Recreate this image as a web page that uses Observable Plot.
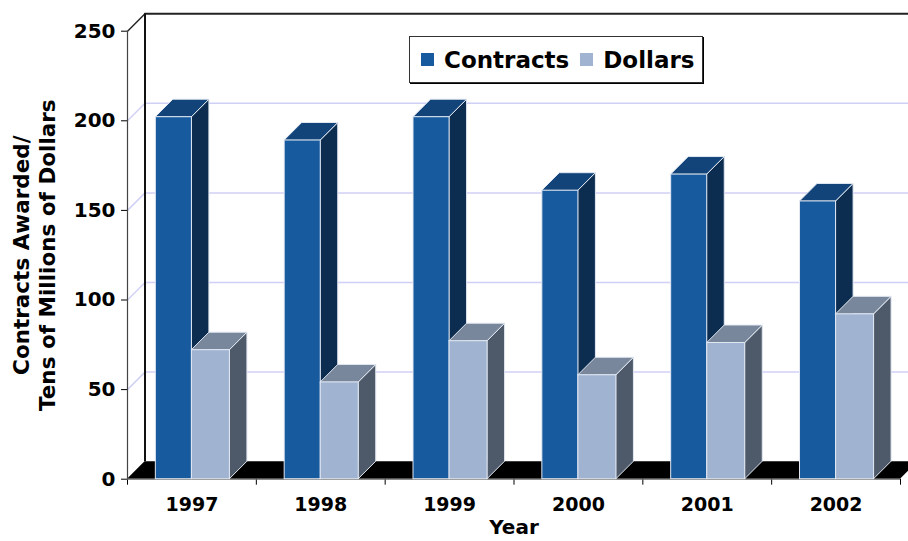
<!DOCTYPE html>
<html><head><meta charset="utf-8">
<script src="https://cdn.jsdelivr.net/npm/d3@7"></script>
<script src="https://cdn.jsdelivr.net/npm/@observablehq/plot@0.6"></script>
<style>
html,body{margin:0;padding:0;background:#fff;overflow:hidden}
#wrap{position:relative;width:908px;height:541px;overflow:hidden;font-family:"DejaVu Sans",sans-serif;}
#legend{position:absolute;left:409px;top:36px;width:292px;height:45px;border:1.5px solid #333;box-shadow:1px 1px 0 #000;background:#fff;display:flex;align-items:center;font-weight:bold;font-size:23px;color:#000;box-sizing:content-box}
#legend .item{display:flex;align-items:center}
#legend .sw{display:inline-block;width:13px;height:13px;margin-right:10px}
</style></head><body><div id="wrap"><div id="legend"></div></div>
<script>
const years = ["1997", "1998", "1999", "2000", "2001", "2002"];
const contracts = [202, 189, 202, 161, 170, 155];
const dollars = [72, 54, 77, 58, 76, 92];
const seriesNames = ["Contracts", "Dollars"];
const yTicks = [0, 50, 100, 150, 200, 250];
const yTitle = "Contracts Awarded/\nTens of Millions of Dollars";
const xTitle = "Year";

const W = 908, H = 541, mL = 127, mR = 8, mT = 30.7, mB = 62.3;
const nYears = years.length;
const yMax = yTicks[yTicks.length - 1];
const bandPx = (W - mL - mR) / nYears;
const depthPx = 17.5;
const dX = depthPx / bandPx;
const dY = depthPx * yMax / (H - mT - mB);

const palette = {
  Contracts: {front: "#175a9e", top: "#124379", side: "#0c2d50"},
  Dollars: {front: "#a0b4d2", top: "#79879c", side: "#4e5a69"}
};
const slots = {Contracts: [0.22, 0.5], Dollars: [0.5, 0.795]};
const edge = "#e2e8f2";

const rows = [];
years.forEach((yr, i) => {
  rows.push({id: "C" + i, year: yr, series: "Contracts", value: contracts[i], x1: i + slots.Contracts[0], x2: i + slots.Contracts[1]});
  rows.push({id: "D" + i, year: yr, series: "Dollars", value: dollars[i], x1: i + slots.Dollars[0], x2: i + slots.Dollars[1]});
});

function faces(series) {
  const r = rows.filter(d => d.series === series);
  const tops = r.flatMap(d => [
    {id: d.id, y: d.value, x1: d.x1, x2: d.x2},
    {id: d.id, y: d.value + dY, x1: d.x1 + dX, x2: d.x2 + dX}
  ]);
  const sides = r.flatMap(d => [
    {id: d.id, x: d.x2, y1: 0, y2: d.value},
    {id: d.id, x: d.x2 + dX, y1: dY, y2: d.value + dY}
  ]);
  const c = palette[series];
  return [
    Plot.areaY(sides, {x: "x", y1: "y1", y2: "y2", z: "id", fill: c.side, stroke: edge, strokeWidth: 1}),
    Plot.areaX(tops, {y: "y", x1: "x1", x2: "x2", z: "id", fill: c.top, stroke: edge, strokeWidth: 1}),
    Plot.rectY(r, {x1: "x1", x2: "x2", y1: 0, y2: "value", fill: c.front, stroke: edge, strokeWidth: 1})
  ];
}

const inner = yTicks.filter(t => t > 0 && t < yMax);
const grid = "#d0d0f6";

const chart = Plot.plot({
  width: W, height: H,
  marginLeft: mL, marginRight: mR, marginTop: mT, marginBottom: mB,
  style: {fontFamily: "DejaVu Sans", fontSize: "20px", fontWeight: "bold", color: "#000", background: "#fff", overflow: "hidden"},
  x: {domain: [0, nYears], ticks: d3.range(nYears + 1), tickSize: 6, tickFormat: () => "", label: null},
  y: {domain: [0, yMax], ticks: yTicks, tickSize: 6, tickPadding: 6, label: null},
  marks: [
    Plot.ruleY(inner, {y: t => t + dY, x1: dX, x2: nYears + 0.5, stroke: grid, strokeWidth: 1.5}),
    Plot.link(inner, {x1: 0, y1: t => t, x2: dX, y2: t => t + dY, stroke: grid, strokeWidth: 1.5}),
    Plot.ruleY([yMax], {y: t => t + dY, x1: dX, x2: nYears + 0.5, stroke: "#222", strokeWidth: 2}),
    Plot.link([yMax], {x1: 0, y1: t => t, x2: dX, y2: t => t + dY, stroke: "#222", strokeWidth: 1.5}),
    Plot.ruleX([dX], {y1: dY, y2: yMax + dY, stroke: "#111", strokeWidth: 2}),
    Plot.areaX([{y: 0, x1: 0, x2: nYears}, {y: dY, x1: dX, x2: nYears + dX}], {y: "y", x1: "x1", x2: "x2", fill: "#000"}),
    Plot.ruleX([0], {y1: 0, y2: yMax, stroke: "#444", strokeWidth: 1.2}),
    Plot.ruleY([0], {x1: 0, x2: nYears, stroke: "#666", strokeWidth: 1.2}),
    ...faces("Contracts"),
    ...faces("Dollars"),
    Plot.text(years, {x: (d, i) => i + 0.5, y: 0, dy: 26, text: d => d, fontSize: 19, fontWeight: "bold", fill: "#000"}),
    Plot.text([xTitle], {frameAnchor: "bottom", dy: 55, text: d => d, fontSize: 20, fontWeight: "bold", fill: "#000"}),
    Plot.text([yTitle], {frameAnchor: "left", textAnchor: "middle", lineAnchor: "middle", dx: -94, dy: 0, rotate: -90, text: d => d, fontSize: 21.5, fontWeight: "bold", lineHeight: 1.2, fill: "#000"})
  ]
});
document.getElementById("wrap").prepend(chart);

const legend = document.getElementById("legend");
seriesNames.forEach((s, k) => {
  const it = document.createElement("div");
  it.className = "item";
  it.style.marginLeft = "11px";
  const sw = document.createElement("span");
  sw.className = "sw";
  sw.style.background = palette[s].front;
  const tx = document.createElement("span");
  tx.textContent = s;
  it.appendChild(sw); it.appendChild(tx);
  legend.appendChild(it);
});
</script></body></html>
